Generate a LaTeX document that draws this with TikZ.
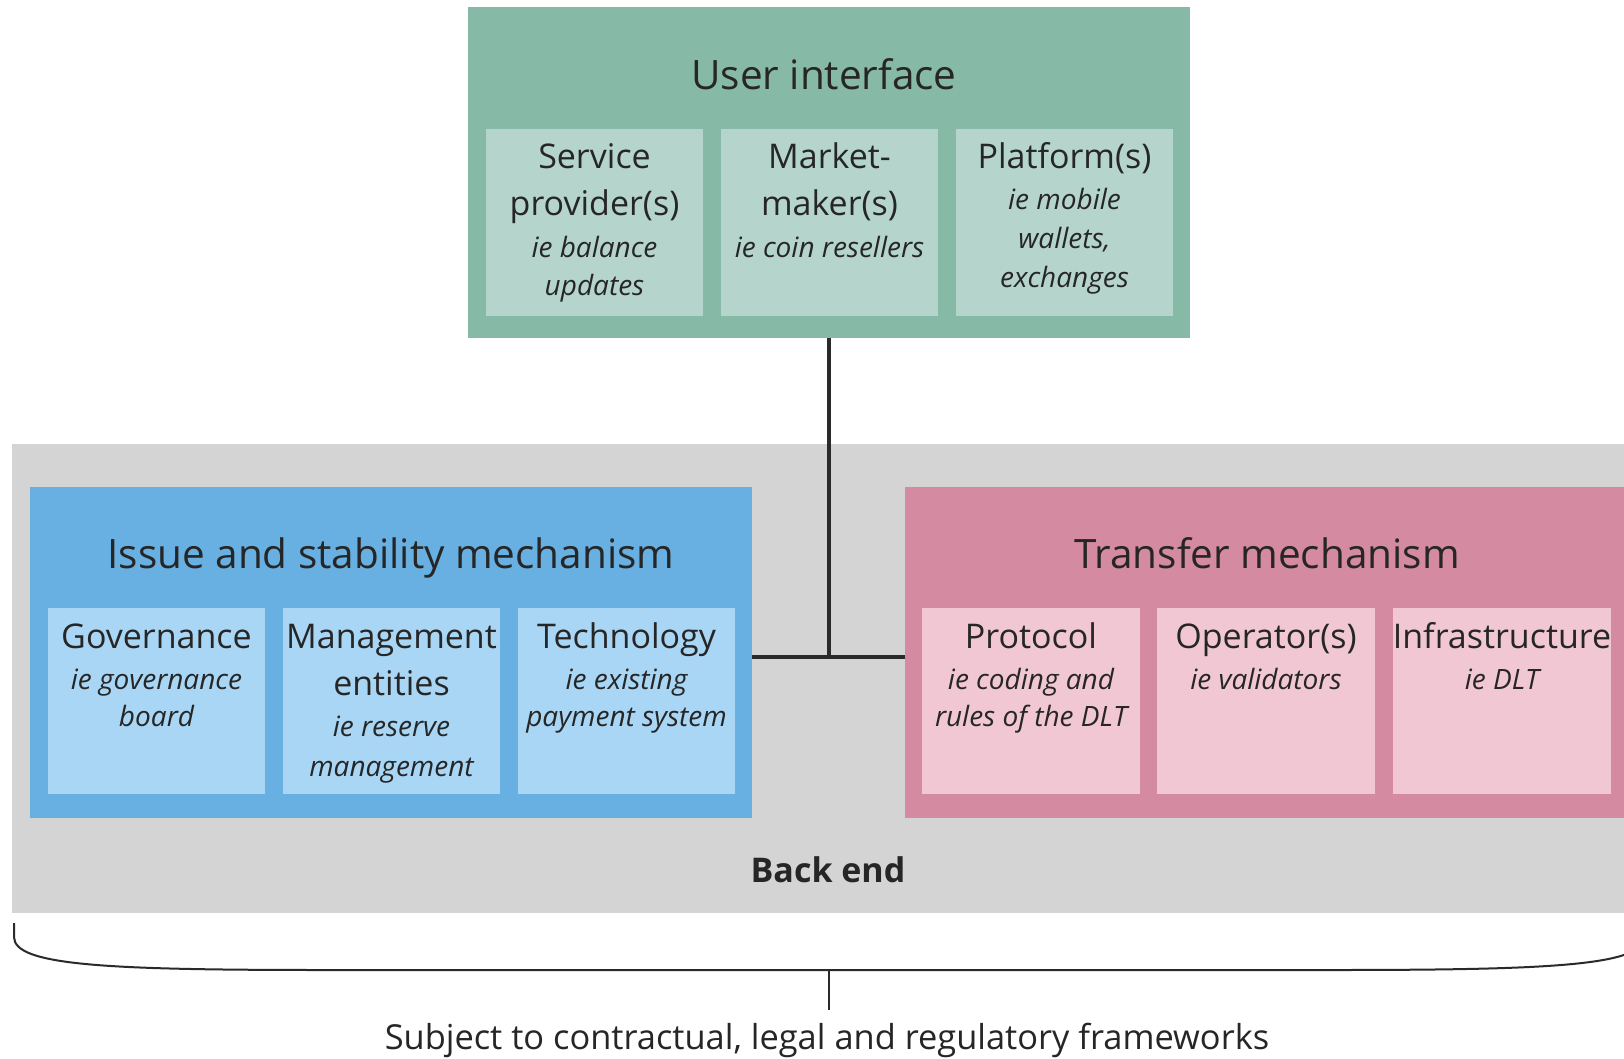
\documentclass[tikz,border=0pt]{standalone}
\usepackage{fontspec}
\setmainfont{Open Sans}
\definecolor{txt}{HTML}{262626}
\definecolor{ln}{HTML}{2A2A2A}
\definecolor{grey}{HTML}{D3D4D3}
\definecolor{gdark}{HTML}{86B9A6}
\definecolor{glight}{HTML}{B5D5CC}
\definecolor{bdark}{HTML}{67B0E1}
\definecolor{blight}{HTML}{A8D6F4}
\definecolor{pdark}{HTML}{D48AA0}
\definecolor{plight}{HTML}{F2C7D4}
\begin{document}
\begin{tikzpicture}[x=1pt,y=-1pt,
  box/.style={rectangle,draw=none,inner sep=0pt,outer sep=0pt,anchor=north west},
  ttl/.style={anchor=base,text=txt,inner sep=0pt,font=\fontsize{40.5}{48}\selectfont},
  sub/.style={anchor=base,text=txt,inner sep=0pt,font=\fontsize{34}{40}\selectfont},
  itl/.style={anchor=base,text=txt,inner sep=0pt,font=\fontsize{28}{32}\selectfont\itshape},
  conn/.style={draw=ln,line width=4pt},
  bracel/.style={draw=ln,line width=2pt}]
\useasboundingbox (0,0) rectangle (1624,1058);
\fill[white] (0,0) rectangle (1624,1058);

% back end
\node[box,fill=grey,minimum width=1612pt,minimum height=469pt] (back) at (12,444) {};

% user interface
\node[box,fill=gdark,minimum width=722pt,minimum height=331pt] (ui) at (468,7) {};
\node[box,fill=glight,minimum width=217pt,minimum height=187pt] (sp) at (486,129) {};
\node[box,fill=glight,minimum width=217pt,minimum height=187pt] (mm) at (721,129) {};
\node[box,fill=glight,minimum width=217pt,minimum height=187pt] (pf) at (956,129) {};
\node[ttl] (uit) at (824,89) {User interface};
\node[sub] (sp1) at (594.5,168) {Service};
\node[sub] (sp2) at (594.5,215) {provider(s)};
\node[itl] (sp3) at (594.5,257) {ie balance};
\node[itl] (sp4) at (594.5,295) {updates};
\node[sub] (mm1) at (829.5,168) {Market-};
\node[sub] (mm2) at (829.5,215) {maker(s)};
\node[itl] (mm3) at (829.5,257) {ie coin resellers};
\node[sub] (pf1) at (1064.5,168) {Platform(s)};
\node[itl] (pf2) at (1064.5,209) {ie mobile};
\node[itl] (pf3) at (1064.5,248) {wallets,};
\node[itl] (pf4) at (1064.5,287) {exchanges};

% issue and stability
\node[box,fill=bdark,minimum width=722pt,minimum height=331pt] (is) at (30,487) {};
\node[box,fill=blight,minimum width=217pt,minimum height=186pt] (gov) at (48,608) {};
\node[box,fill=blight,minimum width=217pt,minimum height=186pt] (man) at (283,608) {};
\node[box,fill=blight,minimum width=217pt,minimum height=186pt] (tec) at (518,608) {};
\node[ttl] (ist) at (391,568) {Issue and stability mechanism};
\node[sub] (gov1) at (156.5,648) {Governance};
\node[itl] (gov2) at (156.5,689) {ie governance};
\node[itl] (gov3) at (156.5,726) {board};
\node[sub] (man1) at (391.5,648) {Management};
\node[sub] (man2) at (391.5,695) {entities};
\node[itl] (man3) at (391.5,736.5) {ie reserve};
\node[itl] (man4) at (391.5,776) {management};
\node[sub] (tec1) at (626.5,648) {Technology};
\node[itl] (tec2) at (626.5,689) {ie existing};
\node[itl] (tec3) at (626.5,726) {payment system};

% transfer
\node[box,fill=pdark,minimum width=719pt,minimum height=331pt] (tm) at (905,487) {};
\node[box,fill=plight,minimum width=218pt,minimum height=186pt] (pro) at (922,608) {};
\node[box,fill=plight,minimum width=218pt,minimum height=186pt] (op) at (1157,608) {};
\node[box,fill=plight,minimum width=218pt,minimum height=186pt] (inf) at (1393,608) {};
\node[ttl] (tmt) at (1267,568) {Transfer mechanism};
\node[sub] (pro1) at (1031,648) {Protocol};
\node[itl] (pro2) at (1031,689) {ie coding and};
\node[itl] (pro3) at (1031,726) {rules of the DLT};
\node[sub] (op1) at (1266,648) {Operator(s)};
\node[itl] (op2) at (1266,689) {ie validators};
\node[sub] (inf1) at (1502,648) {Infrastructure};
\node[itl] (inf2) at (1502,689) {ie DLT};

\node[anchor=base,text=txt,inner sep=0pt,font=\fontsize{34}{40}\selectfont\bfseries] (bet) at (828,882) {Back end};

% connectors
\coordinate (j) at (829,657);
\draw[conn] (ui.south) -- (j);
\draw[conn] (is.east |- j) -- (tm.west |- j);

% brace
\coordinate (bl) at (14,923);
\coordinate (br) at (1644,923);
\coordinate (bm) at (829,970);
\coordinate (bt) at (829,1010);
\draw[bracel] (bl) -- (14,937) .. controls (14,966) and (110,970) .. (330,970) -- (bm)
  -- (1328,970) .. controls (1548,970) and (1644,966) .. (1644,937) -- (br);
\draw[bracel] (bm) -- (bt);
\node[anchor=base,text=txt,inner sep=0pt,font=\fontsize{34.4}{40}\selectfont] (subj) at (827,1049) {Subject to contractual, legal and regulatory frameworks};
\end{tikzpicture}
\end{document}
